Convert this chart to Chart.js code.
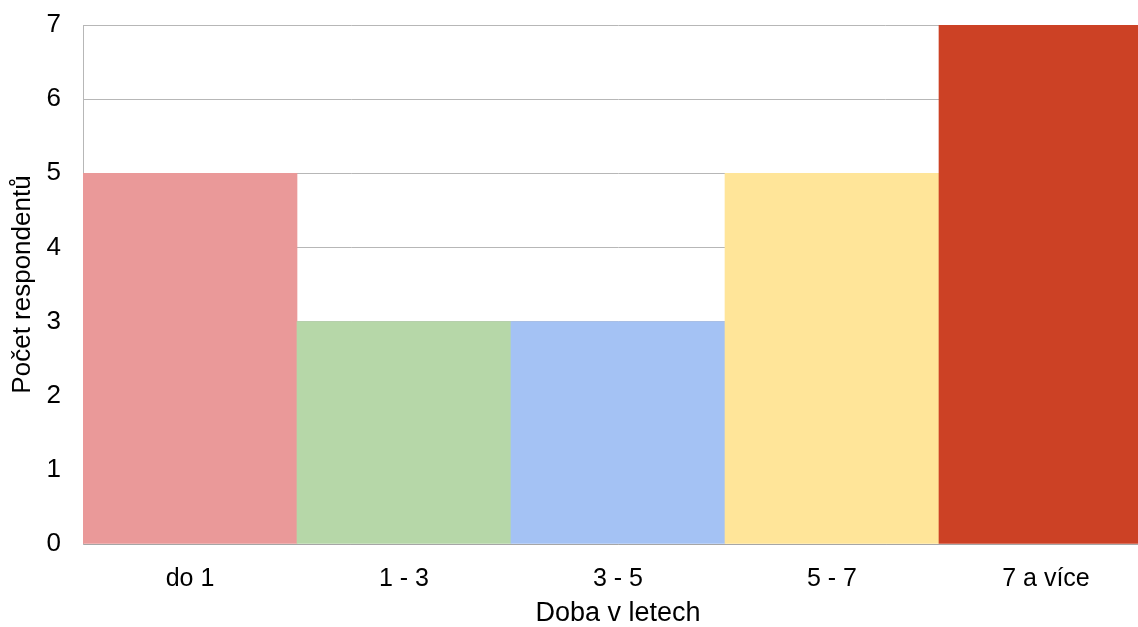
<!DOCTYPE html>
<html>
<head>
<meta charset="utf-8">
<script src="https://cdn.jsdelivr.net/npm/chart.js@4/dist/chart.umd.min.js"></script>
<style>
  html, body { margin: 0; padding: 0; background: #fff; overflow: hidden; }
  #wrap { width: 1153px; height: 627px; position: relative; }
</style>
</head>
<body>
<div id="wrap"><canvas id="dobaChart"></canvas></div>
<script>
// data
const categories = ['do 1', '1 - 3', '3 - 5', '5 - 7', '7 a více'];
const respondents = [5, 3, 3, 5, 7];
const barColors = ['#ea9999', '#b6d7a8', '#a4c2f4', '#ffe599', '#cc4125'];

let ctx = document.getElementById('dobaChart').getContext('2d');

var chart = new Chart(ctx, {
    type: 'bar',
    data: {
        labels: categories,
        datasets: [{
            data: respondents,
            backgroundColor: barColors,
            borderWidth: 0,
            barPercentage: 1,
            categoryPercentage: 1
        }]
    },
    options: {
        responsive: true,
        maintainAspectRatio: false,
        animation: false,
        layout: { padding: { top: 25, right: 0, left: 0, bottom: 0 } },
        plugins: {
            legend: { display: false },
            tooltip: { enabled: false }
        },
        scales: {
            x: {
                grid: { display: false },
                border: { display: true, color: '#a6a6a6', width: 1 },
                ticks: {
                    color: '#000',
                    font: { family: 'Liberation Sans', size: 25 },
                    padding: 12,
                    maxRotation: 0
                },
                title: {
                    display: true,
                    text: 'Doba v letech',
                    color: '#000',
                    font: { family: 'Liberation Sans', size: 27, lineHeight: 1 },
                    padding: { top: 4, bottom: 0 }
                },
                afterFit: function (scale) { scale.height = 83; }
            },
            y: {
                min: 0,
                max: 7,
                grid: { color: '#b7b7b7', drawTicks: false },
                border: { display: true, color: '#b7b7b7', width: 1 },
                ticks: {
                    stepSize: 1,
                    color: '#000',
                    font: { family: 'Liberation Sans', size: 26 },
                    padding: 22
                },
                title: {
                    display: true,
                    text: 'Počet respondentů',
                    color: '#000',
                    font: { family: 'Liberation Sans', size: 26, lineHeight: 1 },
                    padding: { top: 10, bottom: 0 }
                },
                afterFit: function (scale) {
                    scale.width = 83;
                    scale.paddingTop = 0;
                    scale.paddingBottom = 0;
                }
            }
        }
    }
});
</script>
</body>
</html>
